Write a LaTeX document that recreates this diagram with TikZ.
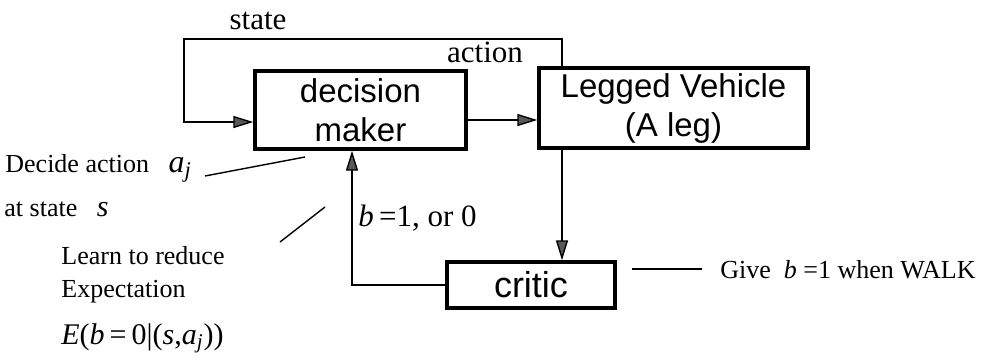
\documentclass[tikz,border=0pt]{standalone}
\usepackage{fontspec}
\setmainfont{Liberation Serif}
\newfontfamily\boxfont{Liberation Sans}
\usetikzlibrary{arrows.meta}
\begin{document}
\begin{tikzpicture}[x=0.5pt,y=-0.5pt,
  blk/.style={draw, line width=1.7pt, inner sep=0pt, align=center,
              font=\boxfont\fontsize{16.5}{19}\selectfont},
  conn/.style={line width=0.7pt},
  arr/.style={conn, -{Triangle[length=10pt,width=6pt,fill=black!65]}},
  lbl/.style={font=\fontsize{15.5}{18}\selectfont, inner sep=0pt},
  note/.style={font=\fontsize{13}{16}\selectfont, inner sep=0pt, anchor=west}]
\useasboundingbox (0,0) rectangle (986,360);

% blocks
\node[blk, minimum width=105.5pt, minimum height=39pt] (dm) at (360.5,110) {decision\\[0.5pt]maker};
\node[blk, minimum width=134.5pt, minimum height=40pt] (lv) at (673.5,108) {Legged Vehicle\\[0.5pt](A leg)};
\node[blk, minimum width=84pt, minimum height=23pt, font=\boxfont\fontsize{18}{20}\selectfont] (cr) at (531,285) {critic};

% helper coordinates
\coordinate (sx) at (562,39);
\coordinate (sl) at (184,39);
\coordinate (in) at (0,122);
\coordinate (ac) at (0,120);
\coordinate (fb) at (352,0);

% connectors
\draw[arr] (lv.north -| sx) -- (sx) -- (sl) |- (dm.west |- in);
\draw[arr] (dm.east |- ac) -- (lv.west |- ac);
\draw[arr] (lv.south -| sx) -- (cr.north -| sx);
\draw[arr] (cr.west) -| (dm.south -| fb);

% connector labels
\node[lbl] (st) at (258,21) {state};
\node[lbl] (ak) at (485,52) {action};
\node[lbl, anchor=west] (bl) at (358,218) {\textit{b}\,=1, or 0};

% notes
\node[note] (n1) at (5,168) {Decide action\ \ \ \fontsize{16}{18}\selectfont\textit{a}\textsubscript{\textit{j}}};
\node[note] (n2) at (4,209) {at state\ \ \ \fontsize{15}{18}\selectfont\textit{s}};
\node[note] (n3) at (61,256) {Learn to reduce};
\node[note] (n4) at (61,292) {Expectation};
\node[note, font=\fontsize{15}{18}\selectfont] (n5) at (61,338) {\textit{E}(\textit{b}\,=\,0|(\textit{s},\textit{a}\textsubscript{\textit{j}}))};
\node[note] (n6) at (720,270) {Give\ \ \textit{b}\ =1 when WALK};

\coordinate (l1a) at (205,176); \coordinate (l1b) at (305,157);
\draw[conn] (l1a) -- (l1b);
\coordinate (l2a) at (280,242); \coordinate (l2b) at (325,207);
\draw[conn] (l2a) -- (l2b);
\coordinate (l3a) at (632,269); \coordinate (l3b) at (702,269);
\draw[conn] (l3a) -- (l3b);
\end{tikzpicture}
\end{document}
